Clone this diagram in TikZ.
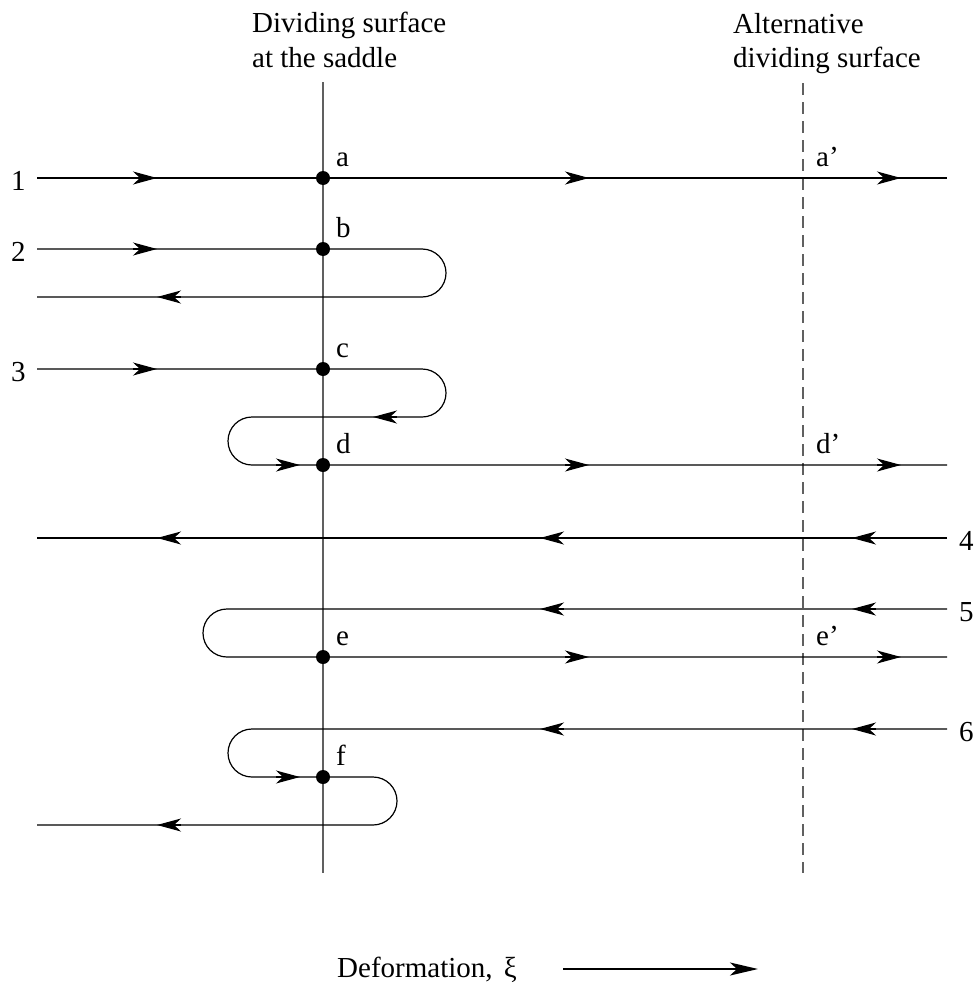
\documentclass[tikz,border=0pt]{standalone}
\usepackage{fontspec}
\setmainfont{Liberation Serif}
\usetikzlibrary{arrows.meta}
\newcommand\rarr[2]{\draw[tipline] ({#1-24},#2) -- (#1,#2);}
\newcommand\larr[2]{\draw[tipline] ({#1+24},#2) -- (#1,#2);}
\begin{document}
\begin{tikzpicture}[x=1pt,y=-1pt,
  traj/.style={line width=1.2pt, black},
  tipline/.style={-{Stealth[length=24pt,width=13pt,inset=7pt]}, line width=1.2pt},
  surf/.style={line width=1.4pt, gray!75!black},
  lbl/.style={inner sep=0pt, anchor=base west, font=\fontsize{29}{34}\selectfont},
  dot/.style={circle, fill=black, inner sep=0pt, minimum size=14pt}]
\useasboundingbox (0,0) rectangle (979,990);
% titles
\node[lbl] (t1) at (252,33) {Dividing surface};
\node[lbl] (t2) at (252,67) {at the saddle};
\node[lbl] (t3) at (733,34) {Alternative};
\node[lbl] (t4) at (733,67) {dividing surface};
% surfaces
\coordinate (s1) at (323,82);
\coordinate (s2) at (323,873);
\coordinate (s3) at (803,83);
\coordinate (s4) at (803,873);
\draw[surf] (s1) -- (s2);
\draw[surf, dash pattern=on 12pt off 7pt] (s3) -- (s4);
% trajectories
\draw[traj] (37,178) -- (947,178);
\draw[traj] (37,249) -- (422,249) arc[start angle=-90,end angle=90,radius=24] -- (37,297);
\draw[traj] (37,369) -- (422,369) arc[start angle=-90,end angle=90,radius=24] -- (252,417)
  arc[start angle=270,end angle=90,radius=24] -- (947,465);
\draw[traj] (947,538) -- (37,538);
\draw[traj] (947,609) -- (227,609) arc[start angle=270,end angle=90,radius=24] -- (947,657);
\draw[traj] (947,729) -- (252,729) arc[start angle=270,end angle=90,radius=24] -- (373,777)
  arc[start angle=-90,end angle=90,radius=24] -- (37,825);
% arrows
\rarr{157}{178} \rarr{589}{178} \rarr{901}{178}
\rarr{157}{249} \larr{157}{297}
\rarr{157}{369} \larr{373}{417} \rarr{300}{465} \rarr{589}{465} \rarr{901}{465}
\larr{852}{538} \larr{540}{538} \larr{157}{538}
\larr{852}{609} \larr{540}{609} \rarr{589}{657} \rarr{901}{657}
\larr{852}{729} \larr{540}{729} \rarr{300}{777} \larr{157}{825}
% dots
\node[dot] (a) at (323,178) {};
\node[dot] (b) at (323,249) {};
\node[dot] (c) at (323,369) {};
\node[dot] (d) at (323,465) {};
\node[dot] (e) at (323,657) {};
\node[dot] (f) at (323,777) {};
% labels
\node[lbl] (la) at (336,166) {a};
\node[lbl] (lb) at (336,237) {b};
\node[lbl] (lc) at (336,357) {c};
\node[lbl] (ld) at (336,453) {d};
\node[lbl] (le) at (336,645) {e};
\node[lbl] (lf) at (336,765) {f};
\node[lbl] (la2) at (816,166) {a’};
\node[lbl] (ld2) at (816,453) {d’};
\node[lbl] (le2) at (816,645) {e’};
\node[lbl] (n1) at (11,190) {1};
\node[lbl] (n2) at (11,261) {2};
\node[lbl] (n3) at (11,381) {3};
\node[lbl] (n4) at (959,550) {4};
\node[lbl] (n5) at (959,621) {5};
\node[lbl] (n6) at (959,741) {6};
% deformation
\node[lbl] (def) at (337,977) {Deformation,\hspace{4pt} ξ};
\coordinate (d1) at (563,969);
\coordinate (d2) at (758,969);
\draw[line width=2pt,-{Stealth[length=28pt,width=13pt,inset=7pt]}] (d1) -- (d2);
\end{tikzpicture}
\end{document}
